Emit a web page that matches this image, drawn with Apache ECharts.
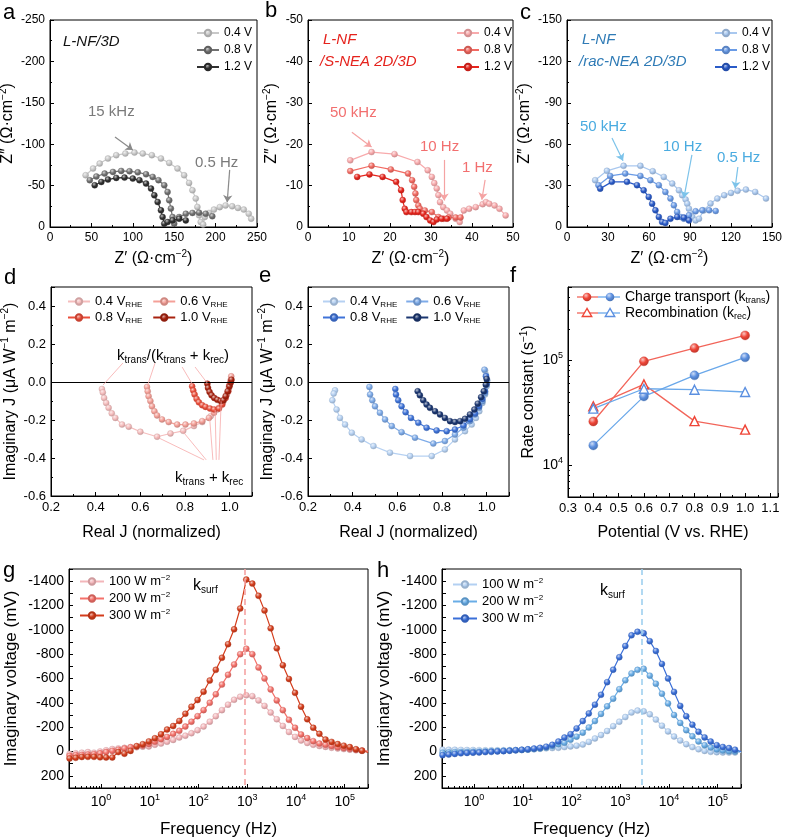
<!DOCTYPE html>
<html><head><meta charset="utf-8">
<script src="https://cdn.jsdelivr.net/npm/echarts@6/dist/echarts.min.js"></script>
<style>html,body{margin:0;padding:0;background:#fff}#c{width:785px;height:839px}</style>
</head><body><div id="c"></div>
<script>
// ---------------- DATA ----------------
// Panel a: L-NF/3D Nyquist  [Z', Z'']
const A_V04 = [[43,-62.5],[52,-70.6],[60,-76.6],[70,-82.7],[80,-86.7],[91,-88.7],[102,-89.9],[112,-88.7],[123,-86.7],[134,-82.7],[144,-77.4],[154,-70.6],[162,-62.5],[168,-53.2],[172,-44.4],[176,-34.3],[178,-24.2],[180,-14.1],[182,-6],[185,-3],[187,-12],[192,-17],[198,-21],[205,-24],[212,-26],[220,-25],[227,-23],[234,-21],[240,-16],[243,-10]];
const A_V08 = [[48,-56.5],[56,-61],[66,-64.5],[76,-66.5],[86,-67.7],[96,-67.3],[106,-66],[116,-63.7],[124,-60.5],[131,-56.5],[138,-50.4],[142,-42.3],[144,-32.3],[146,-22.2],[148,-12],[150,-4],[156,-12],[164,-16],[172,-17],[180,-17.3],[188,-16],[196,-13]];
const A_V12 = [[54,-50.4],[62,-54.4],[70,-57.3],[80,-59.3],[90,-59.7],[100,-58.5],[108,-56.5],[116,-52.4],[122,-46.4],[126,-38.3],[130,-30.2],[134,-20.2],[136,-12],[138,-4],[142,-6],[148,-8],[156,-10],[164,-8]];
// Panel b: L-NF/S-NEA 2D/3D
const B_V04 = [[10.3,-16.1],[15.5,-18.1],[21.1,-17.6],[26.7,-15.7],[29.2,-13.7],[30.2,-12.1],[30.8,-10.6],[31.4,-9.3],[31.8,-7.7],[32.2,-6],[33,-4.8],[33.9,-4],[34.7,-3.2],[36,-2],[37,-1.2],[38,-4],[39.3,-4.4],[40.9,-4.8],[42.6,-5.5],[43.4,-6],[44.2,-5.6],[45.5,-5.2],[46.7,-4.4],[48.2,-2.8]];
const B_V08 = [[10.3,-13.5],[15.5,-14.8],[20.2,-13.9],[24.4,-12.9],[25.4,-11.3],[25.9,-9.7],[26.2,-8.1],[26.4,-6.5],[26.9,-5.2],[27.3,-4.4],[28.5,-4],[30.2,-3.6],[31.8,-2.4],[33.1,-2],[34.3,-2.3],[36,-2.3],[37.2,-2.3]];
const B_V12 = [[12,-12.1],[15,-12.7],[18.2,-12.1],[21.5,-10.9],[22.7,-8.9],[23.1,-6.5],[23.6,-4.4],[24,-3.6],[25.2,-3.6],[26.1,-3.6],[26.9,-3.6],[28.1,-3.2],[28.9,-2.4],[29.8,-1.6],[30.6,-1.2],[31.4,-1.8],[32.6,-2],[33.9,-2]];
// Panel c: L-NF/rac-NEA 2D/3D
const C_V04 = [[20.6,-33.9],[29.2,-40.7],[41.4,-44.3],[53.7,-44.3],[62.7,-40.4],[70.8,-36.3],[77,-31.5],[81.9,-26.6],[84.3,-23],[86.8,-19.9],[88,-16.9],[89.2,-13.3],[90.4,-9.7],[91.7,-7.3],[94.1,-4.8],[96.6,-6],[100,-12],[105,-17],[110,-20.6],[115,-23],[120,-24.7],[124.8,-26.2],[130.9,-27.1],[137.7,-25.4],[145.6,-20.6]];
const C_V08 = [[23,-30.3],[31.6,-37],[42.6,-38.7],[53.7,-37],[61,-33.9],[67.2,-30.3],[72,-25.4],[75.7,-20.6],[78.2,-15.7],[80.6,-10.9],[83,-7.3],[85.5,-6],[89.2,-8.5],[94.1,-11.4],[99,-12.1],[104,-12.1],[108.8,-11.6]];
const C_V12 = [[24.3,-27.8],[32.8,-32.7],[43.9,-32.7],[51.2,-30.3],[56.1,-26.6],[59.8,-21.8],[62.3,-16.9],[64.7,-12.1],[67.2,-7.3],[69.6,-3.6],[72,-2.9],[75.7,-6],[80.6,-7.3],[85.5,-6.8],[89.2,-4.8]];
// Panel d: IMPS (red)  [Real J, Imag J]
const D_V04 = [[0.428,-0.037],[0.432,-0.055],[0.438,-0.084],[0.447,-0.11],[0.458,-0.136],[0.472,-0.165],[0.488,-0.189],[0.518,-0.224],[0.548,-0.235],[0.6,-0.262],[0.675,-0.288],[0.735,-0.271],[0.792,-0.257],[0.84,-0.232],[0.877,-0.211],[0.915,-0.18],[0.945,-0.145],[0.967,-0.11],[0.987,-0.066],[0.997,-0.023],[1.005,0.012]];
const D_V06 = [[0.63,-0.026],[0.633,-0.049],[0.637,-0.075],[0.645,-0.1],[0.652,-0.128],[0.663,-0.154],[0.675,-0.176],[0.697,-0.197],[0.727,-0.211],[0.765,-0.224],[0.802,-0.224],[0.84,-0.218],[0.877,-0.206],[0.907,-0.189],[0.93,-0.162],[0.952,-0.136],[0.972,-0.101],[0.987,-0.066],[0.997,-0.031],[1.004,0.003],[1.007,0.03]];
const D_V08 = [[0.832,-0.023],[0.837,-0.045],[0.843,-0.066],[0.852,-0.089],[0.862,-0.107],[0.877,-0.122],[0.892,-0.131],[0.912,-0.14],[0.93,-0.145],[0.952,-0.14],[0.967,-0.119],[0.982,-0.084],[0.994,-0.049],[1.0,-0.014]];
const D_V10 = [[0.9,-0.009],[0.903,-0.031],[0.91,-0.052],[0.919,-0.07],[0.931,-0.084],[0.945,-0.094],[0.96,-0.1],[0.972,-0.096],[0.982,-0.075],[0.991,-0.049],[0.999,-0.023],[1.005,-0.002],[1.008,0.012]];
// Panel e: IMPS (blue)
const E_V04 = [[0.321,-0.044],[0.315,-0.061],[0.309,-0.096],[0.328,-0.145],[0.343,-0.189],[0.366,-0.224],[0.396,-0.267],[0.44,-0.302],[0.493,-0.337],[0.567,-0.372],[0.657,-0.39],[0.754,-0.39],[0.813,-0.355],[0.858,-0.302],[0.903,-0.259],[0.933,-0.224],[0.952,-0.189],[0.967,-0.154],[0.981,-0.11],[0.993,-0.066],[1.0,-0.023],[1.003,0.009],[0.997,0.038],[0.993,0.061]];
const E_V06 = [[0.475,-0.026],[0.478,-0.066],[0.488,-0.096],[0.5,-0.128],[0.522,-0.162],[0.545,-0.197],[0.575,-0.232],[0.619,-0.264],[0.679,-0.293],[0.761,-0.324],[0.813,-0.311],[0.858,-0.276],[0.896,-0.241],[0.925,-0.206],[0.948,-0.171],[0.966,-0.136],[0.981,-0.101],[0.993,-0.058],[1.0,-0.014],[0.997,0.03],[0.99,0.065]];
const E_V08 = [[0.591,-0.037],[0.594,-0.066],[0.604,-0.096],[0.619,-0.128],[0.637,-0.159],[0.661,-0.189],[0.694,-0.215],[0.731,-0.241],[0.776,-0.255],[0.821,-0.259],[0.858,-0.25],[0.896,-0.229],[0.925,-0.197],[0.948,-0.166],[0.966,-0.128],[0.981,-0.089],[0.993,-0.049],[1.0,-0.009],[0.997,0.03]];
const E_V10 = [[0.691,-0.049],[0.701,-0.07],[0.716,-0.096],[0.731,-0.119],[0.746,-0.136],[0.769,-0.154],[0.791,-0.171],[0.813,-0.189],[0.836,-0.206],[0.858,-0.211],[0.881,-0.206],[0.903,-0.194],[0.925,-0.171],[0.945,-0.145],[0.96,-0.114],[0.975,-0.08],[0.987,-0.049],[0.996,-0.014],[1.0,0.016]];
// Panel f: rate constants
const F_POT = [0.4, 0.6, 0.8, 1.0];
const F_TRANS_RED = [26200, 98000, 131000, 173000];
const F_TRANS_BLUE = [15500, 45400, 72000, 107000];
const F_REC_RED = [36500, 59100, 26400, 21900];
const F_REC_BLUE = [34700, 53700, 52600, 50000];
// Panels g, h: IMVS imaginary voltage vs frequency
const FREQ = [0.226,0.302,0.403,0.537,0.716,0.955,1.27,1.70,2.26,3.02,4.03,5.37,7.16,9.55,12.7,17.0,22.6,30.2,40.3,53.7,71.6,95.5,127,170,226,302,403,537,716,955,1270,1700,2260,3020,4030,5370,7160,9550,12700,17000,22600,30200,40300,53700,71600,95500,127000,170000,226000,302000];
const G_100 = [20,15,10,5,10,0,-10,-20,-25,-30,-35,-35,-40,-42,-55,-65,-80,-95,-115,-130,-150,-175,-205,-245,-290,-340,-385,-425,-450,-462,-455,-420,-375,-320,-265,-210,-160,-120,-90,-70,-55,-45,-38,-30,-25,-20,-15,-10,-5,0];
const G_200 = [35,30,28,25,22,15,5,-5,-15,-25,-35,-42,-50,-62,-80,-100,-120,-145,-170,-205,-245,-290,-340,-400,-470,-550,-630,-715,-800,-845,-800,-690,-600,-510,-420,-340,-260,-195,-140,-110,-85,-65,-55,-45,-35,-28,-22,-15,-8,-3];
const G_300 = [57,52,45,44,44,48,49,49,5,18,-5,-44,-60,-83,-109,-142,-180,-209,-251,-310,-368,-423,-491,-583,-671,-770,-882,-1004,-1175,-1413,-1380,-1280,-1158,-1012,-848,-709,-596,-482,-368,-265,-195,-145,-98,-79,-61,-48,-36,-19,-7,8];
const H_100 = [-15,-14,-14,-13,-12,-12,-11,-10,-10,-10,-10,-11,-12,-13,-15,-18,-22,-26,-28,-30,-36,-42,-48,-57,-79,-107,-135,-168,-208,-245,-283,-320,-336,-330,-306,-262,-212,-165,-123,-90,-60,-36,-18,-5,3,6,8,8,8,8];
const H_200 = [10,8,6,5,4,3,2,0,-2,-4,-6,-8,-10,-13,-16,-20,-25,-32,-45,-60,-72,-97,-122,-155,-197,-250,-309,-371,-434,-512,-585,-642,-671,-680,-623,-557,-475,-395,-300,-235,-175,-125,-82,-52,-33,-17,-8,-3,0,0];
const H_300 = [30,25,20,15,12,10,8,5,3,0,-3,-6,-10,-14,-18,-24,-30,-40,-55,-82,-115,-142,-190,-250,-313,-385,-466,-570,-672,-775,-867,-955,-984,-972,-907,-826,-720,-600,-490,-375,-290,-220,-162,-116,-82,-52,-37,-28,-15,0];
const G_PEAK_FREQ = 870;
const H_PEAK_FREQ = 2700;

// ---------------- STYLE HELPERS ----------------
const FF = '"Liberation Sans", Arial, Helvetica, sans-serif';
function rgb(h){h=h.replace('#','');return [0,2,4].map(i=>parseInt(h.substr(i,2),16));}
function mix(a,b,t){const x=rgb(a),y=rgb(b);return 'rgb('+x.map((v,i)=>Math.round(v+(y[i]-v)*t)).join(',')+')';}
function ball(c){return new echarts.graphic.RadialGradient(0.38,0.32,0.72,[{offset:0,color:mix(c,'#ffffff',0.7)},{offset:0.5,color:c},{offset:1,color:mix(c,'#000000',0.22)}]);}
function rich(color,base){const s=Math.round(base*0.64);return {
  sup:{fontSize:s,lineHeight:s,verticalAlign:'top',color:color,fontFamily:FF},
  sub:{fontSize:s,lineHeight:s,verticalAlign:'bottom',color:color,fontFamily:FF}};}
// minor tick positions for log axes (2..9 x 10^n)
function logMinor(lo,hi){const out=[];for(let e=lo;e<=hi;e++){for(let m=2;m<=9;m++){out.push(+(m*Math.pow(10,e)).toPrecision(6));}}return out;}
const LOG_MINOR_FREQ = logMinor(-1,5).filter(v=>v>0.22&&v<3e5);
const LOG_MINOR_RATE = logMinor(3,5).filter(v=>v>5000&&v<5e5);

const DISPLAY = {
  a04:'0.4 V',a08:'0.8 V',a12:'1.2 V',b04:'0.4 V',b08:'0.8 V',b12:'1.2 V',c04:'0.4 V',c08:'0.8 V',c12:'1.2 V',
  d04:'0.4 V{sub|RHE}',d06:'0.6 V{sub|RHE}',d08:'0.8 V{sub|RHE}',d10:'1.0 V{sub|RHE}',
  e04:'0.4 V{sub|RHE}',e06:'0.6 V{sub|RHE}',e08:'0.8 V{sub|RHE}',e10:'1.0 V{sub|RHE}',
  g100:'100 W m{sup|−2}',g200:'200 W m{sup|−2}',g300:'300 W m{sup|−2}',
  h100:'100 W m{sup|−2}',h200:'200 W m{sup|−2}',h300:'300 W m{sup|−2}'
};

function S(name,data,color,gi,size,extra){
  return Object.assign({type:'line',name:name,data:data,xAxisIndex:gi,yAxisIndex:gi,
    symbol:'circle',symbolSize:size||6,showSymbol:true,animation:false,
    lineStyle:{color:color,width:1.2},
    itemStyle:{color:ball(color),borderColor:mix(color,'#000000',0.15),borderWidth:0.4},
    emphasis:{disabled:true}},extra||{});
}
function ML(lines,color,width,arrow,dashed){
  return {silent:true,animation:false,symbol:arrow?['none','arrow']:['none','none'],symbolSize:7,
    label:{show:false},lineStyle:{color:color,width:width,type:dashed?[6,4]:'solid'},
    emphasis:{disabled:true},data:lines};
}
function seg(x1,y1,x2,y2){return [{coord:[x1,y1]},{coord:[x2,y2]}];}

const AX = {
  axisLine:{show:true,onZero:false,lineStyle:{color:'#000',width:1}},
  axisTick:{show:true,inside:true,length:4,lineStyle:{color:'#000',width:1}},
  minorTick:{show:true,splitNumber:2,length:2,lineStyle:{color:'#000',width:1}},
  splitLine:{show:false},minorSplitLine:{show:false}
};
function stepFmt(step,dec){return v=>{const r=v/step;if(Math.abs(r-Math.round(r))>1e-6)return '';return (Math.abs(v)<1e-9?0:v).toFixed(dec);};}
function logFmt(v){const l=Math.log10(v);const e=Math.round(l);return Math.abs(l-e)<1e-6?'10{sup|'+e+'}':'';}
function nameStyle(fs){return {color:'#000',fontSize:fs,fontFamily:FF,lineHeight:fs+3,rich:rich('#000',fs)};}
function valAxis(gi,min,max,interval,fs,fmt,name,gap,nfs,extra){
  return Object.assign({type:'value',gridIndex:gi,min:min,max:max,interval:interval,
    axisLabel:{color:'#000',fontSize:fs,fontFamily:FF,margin:5,formatter:fmt},
    name:name,nameLocation:'middle',nameGap:gap,nameTextStyle:nameStyle(nfs)},AX,extra||{});
}
function logAxis(gi,min,max,fs,name,gap,nfs,extra){
  return Object.assign({type:'log',logBase:10,gridIndex:gi,min:min,max:max,
    axisLabel:{color:'#000',fontSize:fs,fontFamily:FF,margin:5,lineHeight:fs+4,formatter:logFmt,rich:rich('#000',fs)},
    name:name,nameLocation:'middle',nameGap:gap,nameTextStyle:nameStyle(nfs)},AX,{minorTick:{show:false}},extra||{});
}
function minorLogAxis(gi,min,max,pos,vals){
  return {type:'log',logBase:10,gridIndex:gi,min:min,max:max,position:pos,
    axisLine:{show:false,onZero:false},axisLabel:{show:false},splitLine:{show:false},minorTick:{show:false},
    axisTick:{show:true,inside:true,length:2,customValues:vals,lineStyle:{color:'#000',width:1}}};
}

const GRIDS = [
  {left:50,top:20,width:207,height:207},
  {left:308,top:20,width:205,height:207},
  {left:567,top:20,width:205,height:207},
  {left:51,top:287,width:201,height:209},
  {left:308,top:287,width:201,height:209},
  {left:568,top:287,width:210,height:210},
  {left:69,top:569,width:299,height:219},
  {left:442,top:569,width:299,height:219}
].map(g=>Object.assign({show:true,borderColor:'#000',borderWidth:1,backgroundColor:'transparent',containLabel:false,outerBoundsMode:'none'},g));

const ZX = 'Z′ (Ω·cm{sup|−2})', ZY = 'Z″ (Ω·cm{sup|−2})';
const intFmt = v=>String(Math.round(v));
const xAxes = [
  valAxis(0,0,250,50,12,intFmt,ZX,22,16),
  valAxis(1,0,50,10,12,intFmt,ZX,22,16),
  valAxis(2,0,150,30,12,intFmt,ZX,22,16),
  valAxis(3,0.2,1.1,0.2,13,stepFmt(0.2,1),'Real J (normalized)',27,16),
  valAxis(4,0.2,1.1,0.2,13,stepFmt(0.2,1),'Real J (normalized)',27,16),
  valAxis(5,0.3,1.13,0.1,13,stepFmt(0.1,1),'Potential (V vs. RHE)',26,16),
  logAxis(6,0.22,3e5,14,'Frequency (Hz)',31,17),
  logAxis(7,0.22,3e5,14,'Frequency (Hz)',31,17),
  minorLogAxis(6,0.22,3e5,'bottom',LOG_MINOR_FREQ),
  minorLogAxis(7,0.22,3e5,'bottom',LOG_MINOR_FREQ)
];
const IMJ = 'Imaginary J (μA W{sup|−1} m{sup|−2})';
const gyFmt = v=>(Math.round(v)%200===0?String(Math.round(v)):'');
const yAxes = [
  valAxis(0,-250,0,50,12,intFmt,ZY,27,16,{inverse:true}),
  valAxis(1,-50,0,10,12,intFmt,ZY,27,16,{inverse:true}),
  valAxis(2,-150,0,30,12,intFmt,ZY,27,16,{inverse:true}),
  valAxis(3,-0.6,0.5,0.2,13,stepFmt(0.2,1),IMJ,28,16),
  valAxis(4,-0.6,0.5,0.2,13,stepFmt(0.2,1),IMJ,28,16),
  logAxis(5,5000,5e5,14,'Rate constant (s{sup|−1})',27,16),
  valAxis(6,-1500,300,100,14,gyFmt,'Imaginary voltage (mV)',48,17,{inverse:true,minorTick:{show:false}}),
  valAxis(7,-1500,300,100,14,gyFmt,'Imaginary voltage (mV)',48,17,{inverse:true,minorTick:{show:false}}),
  minorLogAxis(5,5000,5e5,'left',LOG_MINOR_RATE)
];

// ---------------- SERIES ----------------
const COL = {
  a:['#c8c8c8','#707070','#303030'], b:['#f8aaac','#f26a62','#e6251d'], c:['#a9c8ef','#6a9be6','#2a5bc8'],
  d:['#f5bdbd','#f4a098','#ea4e3b','#a8220f'], e:['#b6d1f2','#7eabe8','#3f73d8','#1b3670'],
  g:['#f3b6ba','#f4716a','#d43d1c'], h:['#b3d0f2','#69ade6','#3a6fd8']
};
const pair = (xs,ys)=>xs.map((x,i)=>[x,ys[i]]);
const series = [
  S('a04',A_V04,COL.a[0],0,6,{markLine:ML([seg(78.5,-108.7,100,-93),seg(217,-69,214,-30)],'#8a8a8a',1.2,true)}),
  S('a08',A_V08,COL.a[1],0,6), S('a12',A_V12,COL.a[2],0,6),
  S('b04',B_V04,COL.b[0],1,6,{markLine:ML([seg(10.7,-22.9,15.5,-19.3),seg(33.2,-16.2,33.2,-6.4),seg(43.2,-11.4,42.4,-6.6)],'#f5a3a3',1.2,true)}),
  S('b08',B_V08,COL.b[1],1,6), S('b12',B_V12,COL.b[2],1,6),
  S('c04',C_V04,COL.c[0],2,6,{markLine:ML([seg(32.9,-64.5,41,-48),seg(91.4,-52.2,85.5,-21),seg(125,-43.5,123,-28)],'#7cc3ea',1.2,true)}),
  S('c08',C_V08,COL.c[1],2,6), S('c12',C_V12,COL.c[2],2,6),
  S('d04',D_V04,COL.d[0],3,6,{markLine:ML([{yAxis:0}],'#000',1,false)}),
  S('d06',D_V06,COL.d[1],3,6,{markLine:ML([seg(0.522,0.1,0.433,-0.016),seg(0.666,0.1,0.632,-0.02),seg(0.787,0.079,0.834,-0.014),seg(0.845,0.079,0.899,-0.005),
      seg(0.885,-0.41,0.675,-0.29),seg(0.895,-0.41,0.79,-0.26),seg(0.925,-0.41,0.91,-0.185),seg(0.94,-0.41,0.935,-0.147),seg(0.952,-0.41,0.962,-0.102)],'#f6a9a9',0.8,false)}),
  S('d08',D_V08,COL.d[2],3,6), S('d10',D_V10,COL.d[3],3,6),
  S('e04',E_V04,COL.e[0],4,6,{markLine:ML([{yAxis:0}],'#000',1,false)}),
  S('e06',E_V06,COL.e[1],4,6), S('e08',E_V08,COL.e[2],4,6), S('e10',E_V10,COL.e[3],4,6),
  S('fTransR',pair(F_POT,F_TRANS_RED),'#ef4537',5,9,{lineStyle:{color:'#f2655a',width:1.3}}),
  S('fTransB',pair(F_POT,F_TRANS_BLUE),'#5b8fe0',5,9,{lineStyle:{color:'#6aa8ea',width:1.3}}),
  S('fRecR',pair(F_POT,F_REC_RED),'#ef4537',5,9,{symbol:'triangle',lineStyle:{color:'#f2655a',width:1.3},itemStyle:{color:'#fff',borderColor:'#ef4537',borderWidth:1.4}}),
  S('fRecB',pair(F_POT,F_REC_BLUE),'#5b8fe0',5,9,{symbol:'triangle',lineStyle:{color:'#6aa8ea',width:1.3},itemStyle:{color:'#fff',borderColor:'#5b8fe0',borderWidth:1.4}}),
  S('g100',pair(FREQ,G_100),COL.g[0],6,6,{markLine:ML([{xAxis:G_PEAK_FREQ}],'#f6a3a3',1.6,false,true)}),
  S('g200',pair(FREQ,G_200),COL.g[1],6,6), S('g300',pair(FREQ,G_300),COL.g[2],6,6),
  S('h100',pair(FREQ,H_100),COL.h[0],7,6,{markLine:ML([{xAxis:H_PEAK_FREQ}],'#9fd0ef',1.6,false,true)}),
  S('h200',pair(FREQ,H_200),COL.h[1],7,6), S('h300',pair(FREQ,H_300),COL.h[2],7,6)
];

// ---------------- LEGENDS ----------------
function LG(data,left,top,orient,fs,gap,iw){
  return {data:data,left:left,top:top,orient:orient,padding:0,itemGap:gap,itemWidth:iw,itemHeight:8,selectedMode:false,
    formatter:n=>DISPLAY[n],
    textStyle:{color:'#000',fontSize:fs,fontFamily:FF,lineHeight:fs+2,padding:[0,0,0,0],rich:rich('#000',fs)}};
}
const legends = [
  LG(['a04','a08','a12'],196,26,'vertical',12,3,22),
  LG(['b04','b08','b12'],456,26,'vertical',12,3,22),
  LG(['c04','c08','c12'],714,26,'vertical',12,3,22),
  LG(['d04','d06'],67,294,'horizontal',13,10,22),
  LG(['d08','d10'],67,310,'horizontal',13,10,22),
  LG(['e04','e06'],322,294,'horizontal',13,8,22),
  LG(['e08','e10'],322,310,'horizontal',13,8,22),
  LG(['g100','g200','g300'],79,574,'vertical',13,2,24),
  LG(['h100','h200','h300'],452,577,'vertical',13,2,24)
];

// ---------------- ANNOTATIONS ----------------
function T(x,y,text,color,size,italic){
  return {type:'text',x:x,y:y,z:20,silent:true,style:{text:text,fill:color,fontSize:size,fontFamily:FF,
    fontStyle:italic?'italic':'normal',align:'left',verticalAlign:'middle',lineHeight:size+3,rich:rich(color,size)}};
}
const graphics = [
  T(3,13,'a','#000',22),T(265,11,'b','#000',22),T(520,13,'c','#000',22),
  T(4,278,'d','#000',22),T(259,276,'e','#000',22),T(510,276,'f','#000',22),
  T(3,571,'g','#000',22),T(377,571,'h','#000',22),
  T(63,42,'L-NF/3D','#111',15,true),
  T(88,112,'15 kHz','#7a7a7a',15),T(195,163,'0.5 Hz','#7a7a7a',15),
  T(323,40,'L-NF','#e5221c',15,true),T(320,62,'/S-NEA 2D/3D','#e5221c',15,true),
  T(330,113,'50 kHz','#f26f6f',15),T(420,147,'10 Hz','#f26f6f',15),T(462,168,'1 Hz','#f26f6f',15),
  T(582,40,'L-NF','#2f7bb6',15,true),T(579,62,'/rac-NEA 2D/3D','#2f7bb6',15,true),
  T(580,127,'50 kHz','#4aabe0',15),T(663,147,'10 Hz','#4aabe0',15),T(717,158,'0.5 Hz','#4aabe0',15),
  T(117,356,'k{sub|trans}/(k{sub|trans} + k{sub|rec})','#000',15),
  T(175,478,'k{sub|trans} + k{sub|rec}','#000',15),
  T(193,586,'k{sub|surf}','#000',16),T(600,591,'k{sub|surf}','#000',16),
  // panel f legend
  {type:'line',shape:{x1:577,y1:297,x2:598,y2:297},style:{stroke:'#f2655a',lineWidth:1.3},z:20},
  {type:'line',shape:{x1:598,y1:297,x2:620,y2:297},style:{stroke:'#6aa8ea',lineWidth:1.3},z:20},
  {type:'circle',shape:{cx:587,cy:297,r:4.3},style:{fill:ball('#ef4537')},z:21},
  {type:'circle',shape:{cx:610,cy:297,r:4.3},style:{fill:ball('#5b8fe0')},z:21},
  {type:'line',shape:{x1:577,y1:313,x2:598,y2:313},style:{stroke:'#f2655a',lineWidth:1.3},z:20},
  {type:'line',shape:{x1:598,y1:313,x2:620,y2:313},style:{stroke:'#6aa8ea',lineWidth:1.3},z:20},
  {type:'polygon',shape:{points:[[587,308.5],[582.3,316.5],[591.7,316.5]]},style:{fill:'#fff',stroke:'#ef4537',lineWidth:1.4},z:21},
  {type:'polygon',shape:{points:[[610,308.5],[605.3,316.5],[614.7,316.5]]},style:{fill:'#fff',stroke:'#5b8fe0',lineWidth:1.4},z:21},
  T(625,297,'Charge transport (k{sub|trans})','#000',14),
  T(625,313,'Recombination (k{sub|rec})','#000',14)
];

const chart = echarts.init(document.getElementById('c'),null,{renderer:'canvas'});
chart.setOption({
  animation:false,backgroundColor:'#fff',
  textStyle:{fontFamily:FF},
  grid:GRIDS,xAxis:xAxes,yAxis:yAxes,series:series,legend:legends,graphic:graphics
});
</script></body></html>
